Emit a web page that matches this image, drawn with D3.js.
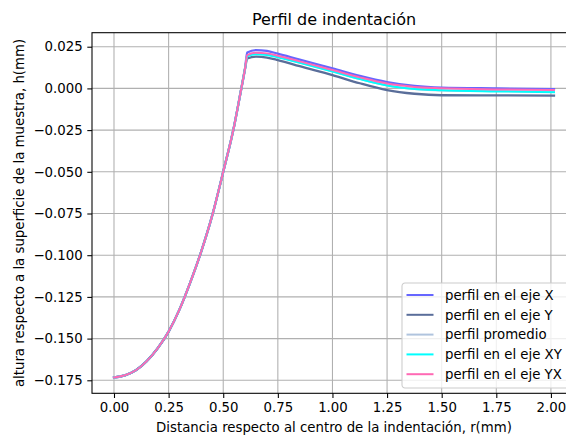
<!DOCTYPE html>
<html>
<head>
<meta charset="utf-8">
<script src="https://cdn.jsdelivr.net/npm/d3@7"></script>
<style>
  html, body { margin: 0; padding: 0; background: #fff; }
  svg { display: block; font-family: "DejaVu Sans", sans-serif; }
</style>
</head>
<body>
<svg id="chart" width="566" height="437"></svg>
<script>
// Radial positions (mm) for the inner part of the indentation, shared by all profiles
const radiusRise = [0.00, 0.05, 0.10, 0.15, 0.20, 0.25, 0.30, 0.35, 0.40, 0.45, 0.50, 0.55, 0.58, 0.60];
const heightRise = [-0.1733, -0.1720, -0.1690, -0.1635, -0.1558, -0.1458, -0.1325, -0.1160, -0.0975, -0.0760, -0.0500, -0.0225, -0.0020, 0.0120];

// Radial positions (mm) past the rim of the indentation
const radiusTail = [0.61, 0.65, 0.70, 0.75, 0.85, 1.00, 1.125, 1.25, 1.375, 1.50, 1.75, 2.014];

// Height (mm) past the rim for each profile
const tailX        = [0.0215, 0.0230, 0.0225, 0.0208, 0.0172, 0.0120, 0.0075, 0.0038, 0.0015, 0.0005, 0.0000, -0.0004];
const tailY        = [0.0180, 0.0190, 0.0185, 0.0170, 0.0133, 0.0080, 0.0031, -0.0010, -0.0032, -0.0041, -0.0042, -0.0043];
const tailPromedio = [0.0197, 0.0210, 0.0205, 0.0190, 0.0155, 0.0103, 0.0057, 0.0018, -0.0003, -0.0012, -0.0016, -0.0020];
const tailXY       = [0.0192, 0.0205, 0.0200, 0.0187, 0.0153, 0.0101, 0.0056, 0.0018, -0.0003, -0.0011, -0.0018, -0.0023];
const tailYX       = [0.0200, 0.0214, 0.0210, 0.0196, 0.0162, 0.0110, 0.0066, 0.0029, 0.0009, 0.0001, -0.0006, -0.0010];

const seriesNames  = ["perfil en el eje X", "perfil en el eje Y", "perfil promedio", "perfil en el eje XY", "perfil en el eje YX"];
const seriesColors = ["#6666ff", "#5a6e9a", "#b0c4de", "#00ffff", "#ff69b4"];
const seriesTails  = [tailX, tailY, tailPromedio, tailXY, tailYX];

const xTicks = [0.00, 0.25, 0.50, 0.75, 1.00, 1.25, 1.50, 1.75, 2.00];
const yTicks = [0.025, 0.000, -0.025, -0.050, -0.075, -0.100, -0.125, -0.150, -0.175];

const titleText  = "Perfil de indentación";
const xLabelText = "Distancia respecto al centro de la indentación, r(mm)";
const yLabelText = "altura respecto a la superficie de la muestra, h(mm)";

// Layout
const plot = { left: 92, right: 576, top: 32.7, bottom: 393.3 };
const svg = d3.select("#chart");

const x = d3.scaleLinear().domain([-0.1007, 2.1148]).range([plot.left, plot.right]);
const y = d3.scaleLinear().domain([-0.1828, 0.0334]).range([plot.bottom, plot.top]);

const fmtMinus = f => v => f(v).replace("-", "\u2212");

// Grid
const grid = svg.append("g");
grid.selectAll("line.vx").data(xTicks).join("line")
  .attr("x1", d => x(d)).attr("x2", d => x(d))
  .attr("y1", plot.top).attr("y2", plot.bottom)
  .attr("stroke", "#b0b0b0").attr("stroke-width", 1.07);
grid.selectAll("line.hy").data(yTicks).join("line")
  .attr("x1", plot.left).attr("x2", plot.right)
  .attr("y1", d => y(d)).attr("y2", d => y(d))
  .attr("stroke", "#b0b0b0").attr("stroke-width", 1.07);

// Profiles
const line = d3.line().x(d => x(d[0])).y(d => y(d[1])).curve(d3.curveMonotoneX);
const lines = svg.append("g");
seriesTails.forEach((tail, i) => {
  const pts = radiusRise.map((r, k) => [r, heightRise[k]])
    .concat(radiusTail.map((r, k) => [r, tail[k]]));
  lines.append("path")
    .attr("d", line(pts))
    .attr("fill", "none")
    .attr("stroke", seriesColors[i])
    .attr("stroke-width", i < 2 ? 2.3 : 2)
    .attr("stroke-linejoin", "round")
    .attr("stroke-linecap", "square");
});

// Axes
const xAxis = d3.axisBottom(x).tickValues(xTicks).tickFormat(d3.format(".2f"))
  .tickSize(4.7).tickPadding(4.7);
const yAxis = d3.axisLeft(y).tickValues(yTicks).tickFormat(fmtMinus(d3.format(".3f")))
  .tickSize(4.7).tickPadding(4.7);

const gx = svg.append("g").attr("transform", `translate(0,${plot.bottom})`).call(xAxis);
const gy = svg.append("g").attr("transform", `translate(${plot.left},0)`).call(yAxis);
[gx, gy].forEach(g => {
  g.select(".domain").remove();
  g.selectAll(".tick line").attr("stroke", "#000").attr("stroke-width", 1.07);
  g.selectAll(".tick text").attr("fill", "#000")
    .style("font-size", "13.3px").style("font-family", "'DejaVu Sans', sans-serif");
});

// Frame
svg.append("rect")
  .attr("x", plot.left).attr("y", plot.top)
  .attr("width", plot.right - plot.left).attr("height", plot.bottom - plot.top)
  .attr("fill", "none").attr("stroke", "#000").attr("stroke-width", 1.07);

// Titles
svg.append("text")
  .attr("x", (plot.left + plot.right) / 2).attr("y", 25)
  .attr("text-anchor", "middle").style("font-size", "16px")
  .text(titleText);
svg.append("text")
  .attr("x", (plot.left + plot.right) / 2).attr("y", 432)
  .attr("text-anchor", "middle").style("font-size", "13.3px")
  .text(xLabelText);
svg.append("text")
  .attr("transform", `translate(23.5,${(plot.top + plot.bottom) / 2}) rotate(-90)`)
  .attr("text-anchor", "middle").style("font-size", "13.3px")
  .text(yLabelText);

// Legend
const legend = svg.append("g").attr("transform", "translate(402,283)");
legend.append("rect")
  .attr("x", 0).attr("y", 0).attr("width", 169).attr("height", 105)
  .attr("rx", 3).attr("ry", 3)
  .attr("fill", "#fff").attr("fill-opacity", 0.8)
  .attr("stroke", "#cccccc").attr("stroke-width", 1.07);
seriesNames.forEach((name, i) => {
  const cy = 12 + i * 19.8;
  legend.append("line")
    .attr("x1", 4.5).attr("x2", 31.5).attr("y1", cy).attr("y2", cy)
    .attr("stroke", seriesColors[i]).attr("stroke-width", 2);
  legend.append("text")
    .attr("x", 43).attr("y", cy + 4.8)
    .style("font-size", "13.3px")
    .text(name);
});
</script>
</body>
</html>
